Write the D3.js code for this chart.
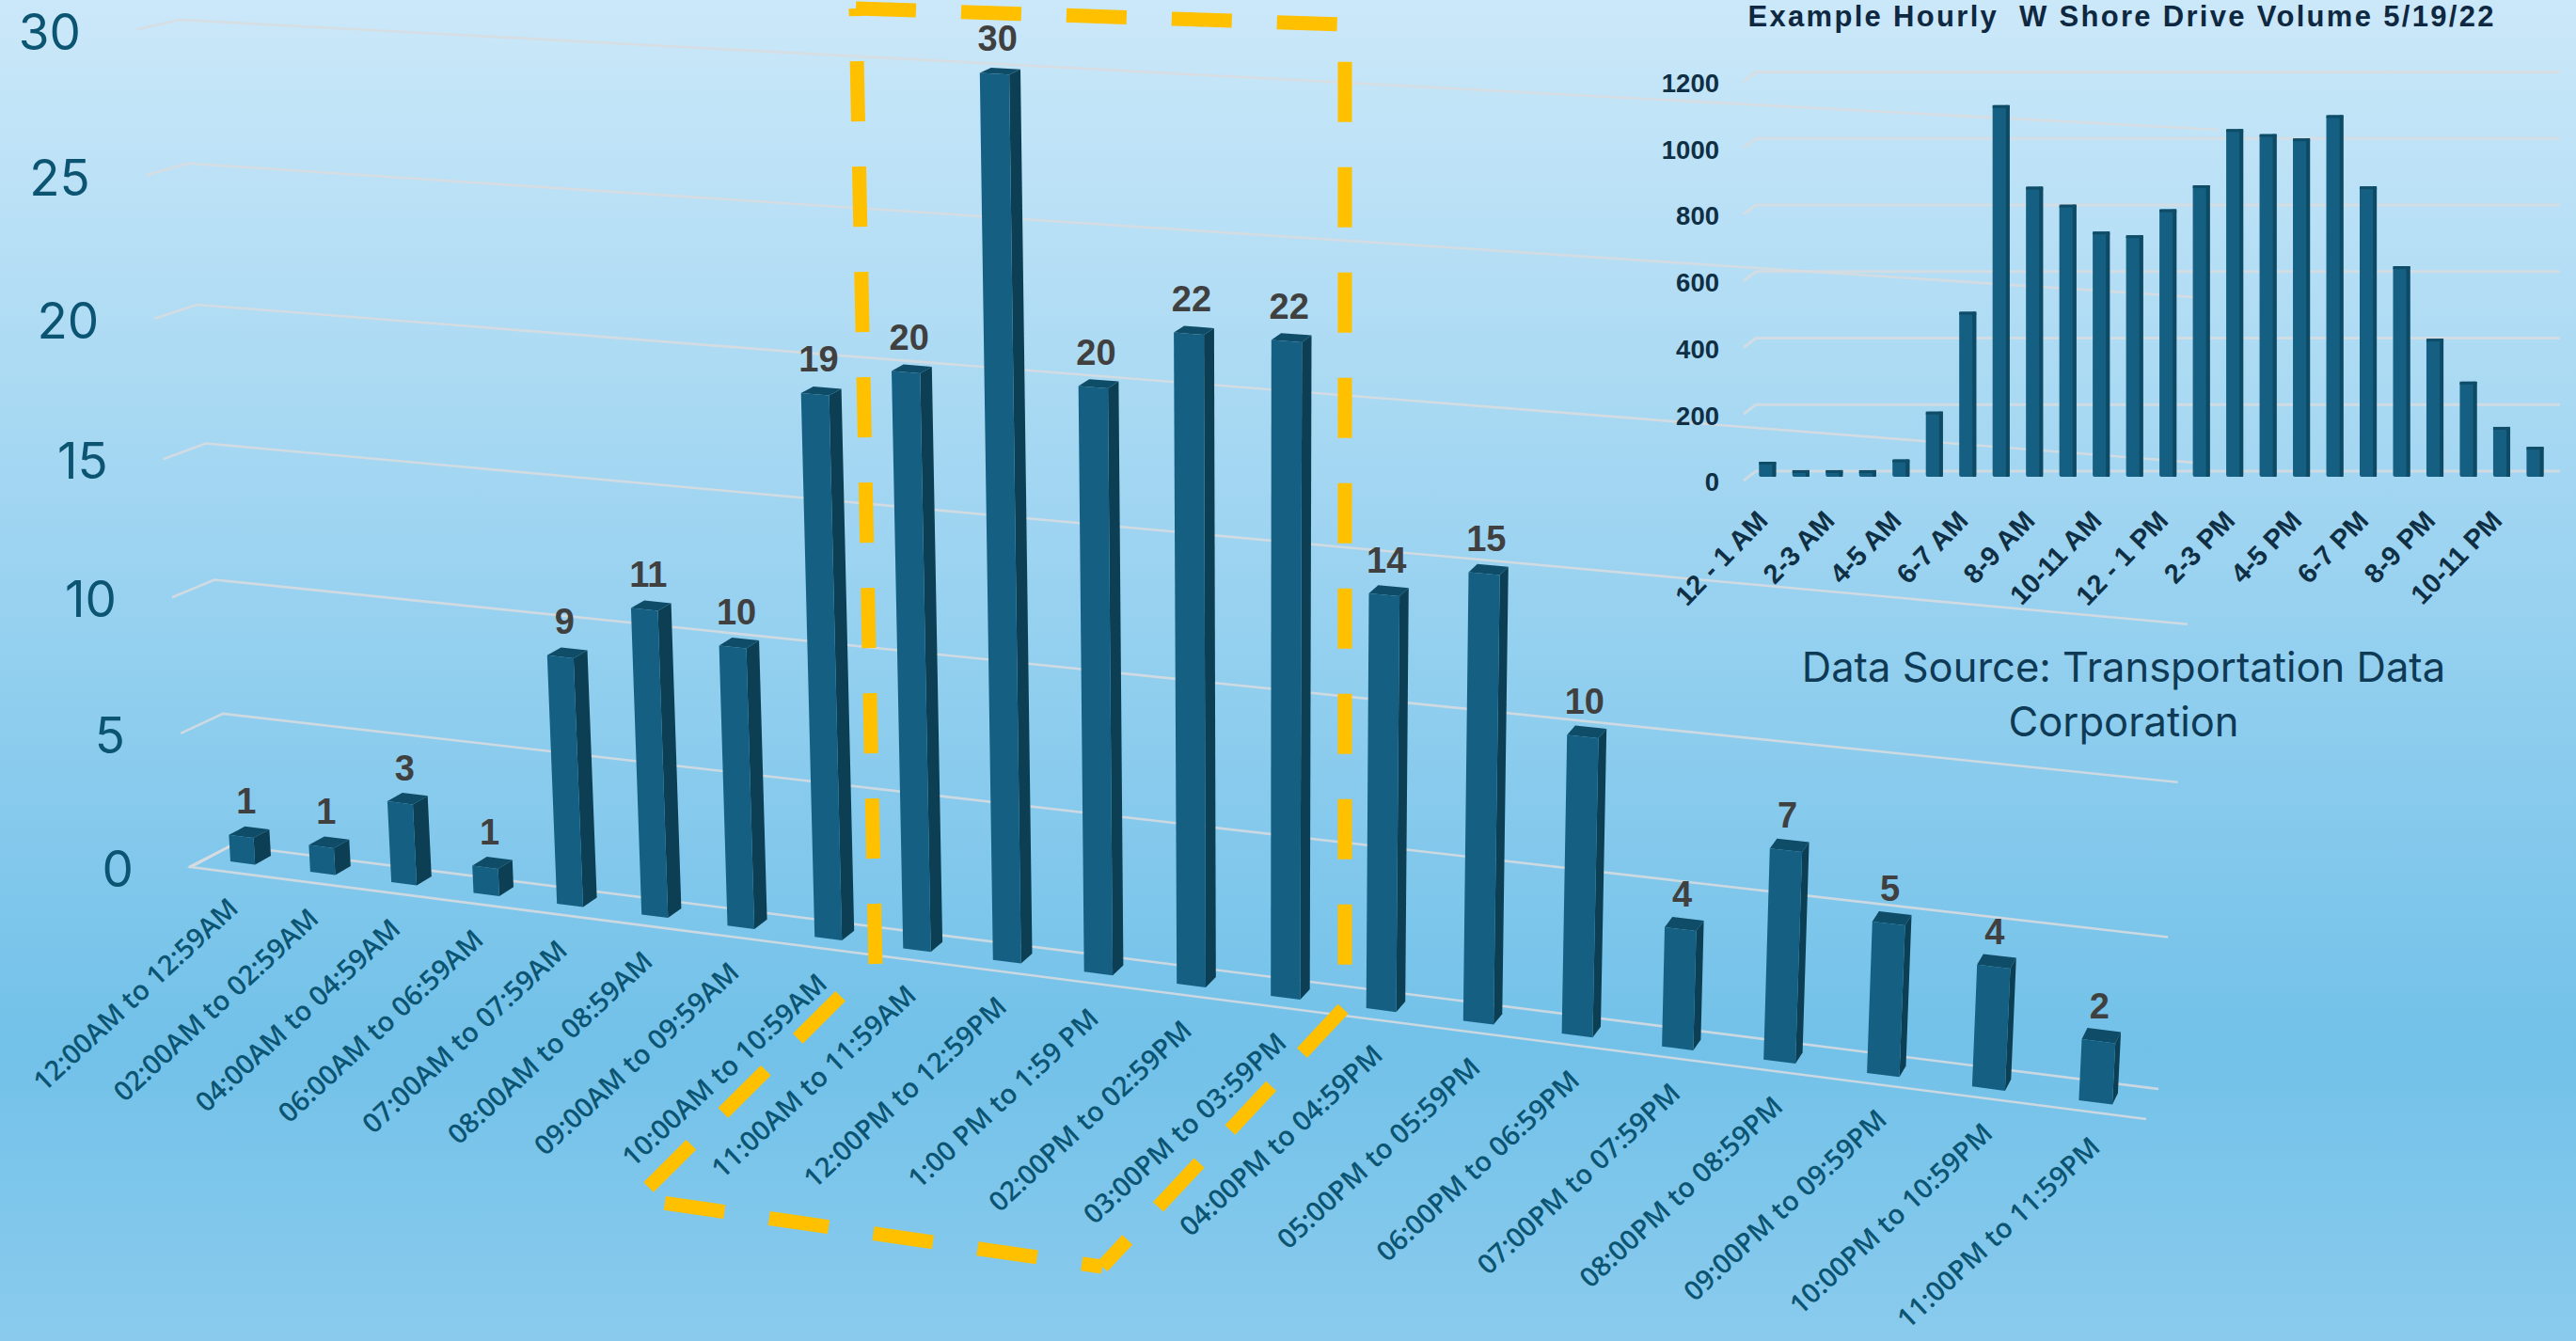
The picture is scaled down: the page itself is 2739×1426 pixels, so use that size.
<!DOCTYPE html>
<html><head><meta charset="utf-8">
<script src="https://cdnjs.cloudflare.com/ajax/libs/d3/7.8.5/d3.min.js"></script>
<style>html,body{margin:0;padding:0;overflow:hidden}svg{display:block}text{font-family:"Liberation Sans",Arial,sans-serif}</style>
</head><body><div id="chart"></div>
<script>
const categories=["12:00AM to 12:59AM","02:00AM to 02:59AM","04:00AM to 04:59AM","06:00AM to 06:59AM","07:00AM to 07:59AM","08:00AM to 08:59AM","09:00AM to 09:59AM","10:00AM to 10:59AM","11:00AM to 11:59AM","12:00PM to 12:59PM","1:00 PM to 1:59 PM","02:00PM to 02:59PM","03:00PM to 03:59PM","04:00PM to 04:59PM","05:00PM to 05:59PM","06:00PM to 06:59PM","07:00PM to 07:59PM","08:00PM to 08:59PM","09:00PM to 09:59PM","10:00PM to 10:59PM","11:00PM to 11:59PM"];
const values=[1,1,3,1,9,11,10,19,20,30,20,22,22,14,15,10,4,7,5,4,2];
const yTicks=[0,5,10,15,20,25,30];
const insetCategories=["12 - 1 AM","1-2 AM","2-3 AM","3-4 AM","4-5 AM","5-6 AM","6-7 AM","7-8 AM","8-9 AM","9-10 AM","10-11 AM","11-12 PM","12 - 1 PM","1-2 PM","2-3 PM","3-4 PM","4-5 PM","5-6 PM","6-7 PM","7-8 PM","8-9 PM","9-10 PM","10-11 PM","11-12 AM"];
const insetValues=[45,20,20,20,52,196,496,1117,872,818,737,726,804,876,1045,1030,1017,1087,873,633,415,286,150,90];
const insetTicks=[0,200,400,600,800,1000,1200];
const insetTitle="Example Hourly  W Shore Drive Volume 5/19/22";
const sourceLines=["Data Source: Transportation Data","Corporation"];

const W=2739,H=1426;
const svg=d3.select("#chart").append("svg").attr("width",W).attr("height",H).attr("viewBox",`0 0 ${W} ${H}`);
const defs=svg.append("defs");
const g=defs.append("linearGradient").attr("id","bg").attr("x1",0).attr("y1",0).attr("x2",0).attr("y2",1);
[[0,"#cbe8f9"],[.78,"#72c1e9"],[1,"#8acbed"]].forEach(s=>g.append("stop").attr("offset",s[0]).attr("stop-color",s[1]));
svg.append("rect").attr("width",W).attr("height",H).attr("fill","url(#bg)");

const xBand=d3.scaleBand().domain(categories).range([0,20.31]).paddingInner(.69).paddingOuter(0);
const yVal=d3.scaleLinear().domain([0,30]).range([0,1]);
function front(u,t){const w=1-.00709*u-.045*t;return [(82.6*u-60*t+245)/w,(4.405*u-886.5*t+916)/w];}
function depth(u,t){return [17-.55*u,-(9.2+.15*u)+5.1*t];}
function backOf(u,t){const p=front(u,t),d=depth(u,t);return [p[0]+d[0],p[1]+d[1]];}
const poly=a=>a.map(p=>p.map(v=>v.toFixed(1)).join(",")).join(" ");

function quad(p0,p1,p2,p3){const dx1=p1[0]-p2[0],dx2=p3[0]-p2[0],dy1=p1[1]-p2[1],dy2=p3[1]-p2[1],sx=p0[0]-p1[0]+p2[0]-p3[0],sy=p0[1]-p1[1]+p2[1]-p3[1],den=dx1*dy2-dy1*dx2,gg=(sx*dy2-dx2*sy)/den,h=(dx1*sy-sx*dy1)/den,a=p1[0]-p0[0]+gg*p1[0],b=p3[0]-p0[0]+h*p3[0],d=p1[1]-p0[1]+gg*p1[1],e=p3[1]-p0[1]+h*p3[1];return (u,v)=>{const w=gg*u+h*v+1;return [(a*u+b*v+p0[0])/w,(d*u+e*v+p0[1])/w];};}
const wall=quad([246,899],[2295,1158],[2359,138],[190,21]);
const gridColor="#d9dcdf";
const gridG=svg.append("g").attr("fill","none").attr("stroke",gridColor).attr("stroke-width",2.6).attr("stroke-opacity",.85);
gridG.selectAll("polyline").data(yTicks).join("polyline").attr("points",d=>{const t=yVal(d),a=wall(0,t),b=wall(1,t);return poly([[a[0]-45,a[1]+23-12.4*t],a,b]);});
const fl=wall(0,0);
gridG.append("polyline").attr("points",poly([fl,[fl[0]-43,fl[1]+23],[2282,1190]]));

svg.append("g").selectAll("text").data(yTicks).join("text")
 .attr("x",d=>wall(0,yVal(d))[0]-45-59).attr("y",d=>wall(0,yVal(d))[1]+23-12.4*yVal(d)+2)
 .attr("text-anchor","end").attr("dy",".36em").attr("fill","#0b5472").attr("font-size",53).style("font-family","Inter").text(d=>d);

const rows=categories.map((c,i)=>({c,v:values[i],i,u0:xBand(c),u1:xBand(c)+xBand.bandwidth(),t:yVal(values[i])}));
const bars=svg.append("g").selectAll("g").data(rows).join("g");
bars.append("polygon").attr("fill","#0c3f54").attr("points",d=>poly([front(d.u1,0),backOf(d.u1,0),backOf(d.u1,d.t),front(d.u1,d.t)]));
bars.append("polygon").attr("fill","#0f4c67").attr("points",d=>poly([front(d.u0,d.t),front(d.u1,d.t),backOf(d.u1,d.t),backOf(d.u0,d.t)]));
bars.append("polygon").attr("fill","#156082").attr("points",d=>poly([front(d.u0,0),front(d.u1,0),front(d.u1,d.t),front(d.u0,d.t)]));
bars.append("text").attr("text-anchor","middle").attr("font-size",38).attr("font-weight",700).attr("fill","#404040")
 .attr("transform",d=>{const p=front((d.u0+d.u1)/2,d.t),q=depth(d.u0,d.t);return `translate(${p[0]+q[0]*.4-1.5},${p[1]-24})`;}).text(d=>d.v);

svg.append("g").selectAll("text").data(rows).join("text")
 .attr("transform",d=>{const p=front(d.u0,0);return `translate(${p[0]+10+.72*d.i},${p[1]+52}) rotate(-43)`;})
 .attr("text-anchor","end").attr("font-size",29).attr("font-weight",600).style("font-family","'Open Sans'").attr("fill","#0b5472").text(d=>d.c);

const iy=d3.scaleLinear().domain([0,1200]).range([501,76.5]);
const ix=d3.scaleBand().domain(insetCategories).range([1852.9,2721.9]).padding(.49);
const ig=svg.append("g");
ig.append("g").attr("fill","none").attr("stroke",gridColor).attr("stroke-width",3).attr("stroke-opacity",.8).selectAll("polyline").data(insetTicks).join("polyline")
 .attr("points",d=>poly([[1854,iy(d)+10],[1867,iy(d)],[2722,iy(d)]]));
ig.append("g").selectAll("text").data(insetTicks).join("text").attr("x",1828).attr("y",d=>iy(d)+11.5).attr("dy",".36em").attr("text-anchor","end").attr("font-size",27.5).attr("font-weight",700).attr("fill","#0f2f45").text(d=>d);
const ib=ig.append("g").selectAll("g").data(insetCategories.map((c,i)=>({c,v:insetValues[i]}))).join("g");
const base=iy(0)+6, bw=ix.bandwidth();
ib.append("rect").attr("x",d=>ix(d.c)).attr("width",bw).attr("y",d=>iy(d.v)+6).attr("height",d=>base-iy(d.v)-6).attr("rx",2).attr("fill","#156082");
ib.append("rect").attr("x",d=>ix(d.c)+bw-4).attr("width",4).attr("y",d=>iy(d.v)+6).attr("height",d=>base-iy(d.v)-6).attr("fill","#0e4a64");
ib.append("rect").attr("x",d=>ix(d.c)).attr("width",bw).attr("y",d=>iy(d.v)+6).attr("height",3).attr("fill","#0f4c67");
ig.append("g").selectAll("text").data(insetCategories.filter((c,i)=>i%2==0)).join("text")
 .attr("transform",d=>`translate(${ix(d)+bw/2+2},555) rotate(-46)`).attr("text-anchor","end").attr("font-size",29).attr("font-weight",700).attr("fill","#0f2f45").text(d=>d);
ig.append("text").attr("x",2255).attr("y",28).attr("text-anchor","middle").attr("font-size",31).attr("font-weight",700).attr("fill","#0e2841").attr("textLength",793).attr("lengthAdjust","spacing").style("white-space","pre").text(insetTitle);
ig.append("g").selectAll("text").data(sourceLines).join("text").attr("x",2258).attr("y",(d,i)=>724.5+i*58.5).attr("text-anchor","middle").attr("font-size",43.5).style("font-family","Inter").attr("fill","#0e3a55").text(d=>d);

const outlineTop=[[910,9],[1430,26],[1430,1071],[1172,1347]];
const outlineBase=[[1172,1347],[677,1275],[925,1028]];
const outlineLeft=[[931,1030],[910,9]];
const hl=svg.append("g").attr("fill","none").attr("stroke","#FFC000").attr("stroke-width",15).attr("stroke-dasharray","64 48");
hl.append("path").attr("d",d3.line()(outlineTop));
hl.append("path").attr("d",d3.line()(outlineBase)).attr("stroke-dashoffset",42);
hl.append("path").attr("d",d3.line()(outlineLeft)).attr("stroke-dashoffset",107);
</script></body></html>
